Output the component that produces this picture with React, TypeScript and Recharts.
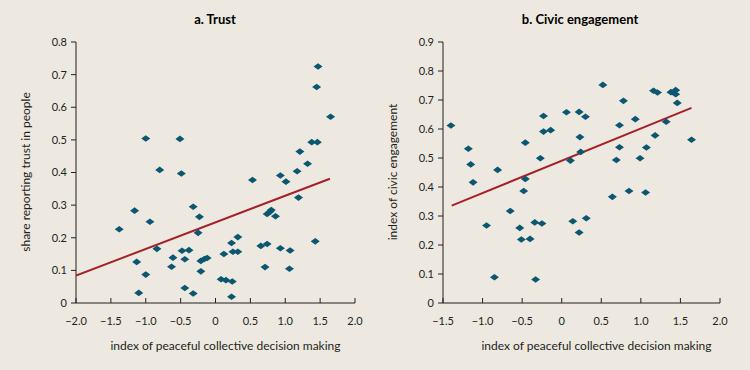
import React from "react";
import { ScatterChart, Scatter, XAxis, YAxis } from "recharts";

const BG = "#EDE9E0";
const DOT = "#0B5670";
const FIT = "#A3222A";
const INK = "#231F20";
const FONT = "Lato, 'Open Sans', sans-serif";

// panel a: trust
const trustIndex = [
  -1.38, -1.16, -1.13, -1.1, -1.0, -1.0, -0.94, -0.8, -0.84, -0.61, -0.63, -0.51, -0.49, -0.48, -0.44,
  -0.44, -0.38, -0.32, -0.32, -0.23, -0.25, -0.21, -0.21, -0.16, -0.12, 0.08, 0.15, 0.12, 0.23, 0.24,
  0.23, 0.25, 0.32, 0.32, 0.53, 0.65, 0.74, 0.71, 0.74, 0.78, 0.8, 0.86, 0.93, 1.01, 0.93, 1.07, 1.06,
  1.17, 1.21, 1.19, 1.32, 1.38, 1.46, 1.45, 1.47, 1.43, 1.65,
];
const trustShare = [
  0.226, 0.283, 0.126, 0.031, 0.504, 0.087, 0.249, 0.408, 0.166, 0.139, 0.111, 0.503, 0.397, 0.16, 0.134,
  0.046, 0.162, 0.295, 0.029, 0.264, 0.215, 0.097, 0.129, 0.135, 0.138, 0.073, 0.07, 0.15, 0.184, 0.066,
  0.019, 0.157, 0.157, 0.202, 0.377, 0.175, 0.181, 0.11, 0.273, 0.28, 0.285, 0.266, 0.391, 0.372, 0.168,
  0.161, 0.105, 0.404, 0.464, 0.323, 0.427, 0.493, 0.493, 0.662, 0.725, 0.189, 0.571,
];
const trustFitX = [-2.0, 1.64];
const trustFitY = [0.084, 0.381];

// panel b: civic engagement
const civicIndex = [
  -1.4, -1.18, -1.15, -1.12, -0.95, -0.85, -0.81, -0.65, -0.53, -0.51, -0.48, -0.46, -0.46, -0.4, -0.34,
  -0.33, -0.27, -0.25, -0.23, -0.23, -0.14, 0.06, 0.11, 0.14, 0.22, 0.23, 0.24, 0.22, 0.3, 0.31, 0.52,
  0.64, 0.69, 0.73, 0.73, 0.78, 0.85, 0.93, 0.99, 1.06, 1.07, 1.16, 1.18, 1.21, 1.32, 1.38, 1.44, 1.44,
  1.46, 1.64,
];
const civicScore = [
  0.612, 0.532, 0.478, 0.416, 0.267, 0.089, 0.459, 0.317, 0.259, 0.219, 0.386, 0.428, 0.553, 0.221, 0.278,
  0.081, 0.499, 0.274, 0.645, 0.591, 0.596, 0.658, 0.491, 0.282, 0.659, 0.572, 0.521, 0.243, 0.642, 0.292,
  0.752, 0.366, 0.493, 0.537, 0.613, 0.697, 0.386, 0.634, 0.499, 0.381, 0.536, 0.732, 0.578, 0.726, 0.625,
  0.727, 0.734, 0.72, 0.69, 0.563,
];
const civicFitX = [-1.39, 1.64];
const civicFitY = [0.336, 0.673];

const trustXTicks = [-2, -1.5, -1, -0.5, 0, 0.5, 1, 1.5, 2];
const trustYTicks = [0, 0.1, 0.2, 0.3, 0.4, 0.5, 0.6, 0.7, 0.8];
const civicXTicks = [-1.5, -1, -0.5, 0, 0.5, 1, 1.5, 2];
const civicYTicks = [0, 0.1, 0.2, 0.3, 0.4, 0.5, 0.6, 0.7, 0.8, 0.9];

const zip = (xs: number[], ys: number[]) => xs.map((x, i) => ({ x, y: ys[i] }));

const fmt = (v: number) => (v === 0 ? "0" : v.toFixed(1).replace("-", "\u2212"));

const Diamond = (props: any) => {
  const { cx, cy } = props;
  if (cx == null || cy == null) return <g />;
  return (
    <polygon
      points={`${cx - 4.5},${cy} ${cx},${cy - 3.3} ${cx + 4.5},${cy} ${cx},${cy + 3.3}`}
      fill={DOT}
    />
  );
};

const NoDot = () => <g />;

// x ticks point up into the plot
const XTick = (props: any) => {
  const { x, y, payload } = props;
  const axisY = y - 14;
  return (
    <g>
      <line x1={x} x2={x} y1={axisY} y2={axisY - 5} stroke={INK} strokeWidth={1} />
      <text x={x} y={y} dy="0.71em" textAnchor="middle" fontSize={11} fill={INK} fontFamily={FONT}>
        {fmt(payload.value)}
      </text>
    </g>
  );
};

interface PanelProps {
  left: number;
  title: string;
  yLabel: string;
  points: { x: number; y: number }[];
  fit: { x: number; y: number }[];
  xDomain: [number, number];
  yDomain: [number, number];
  xTicks: number[];
  yTicks: number[];
  plotLeft: number;
  plotRight: number;
  titleX: number;
  yLabelX: number;
}

function Panel(p: PanelProps) {
  const W = 375;
  const H = 370;
  return (
    <div style={{ position: "absolute", left: p.left, top: 0, width: W, height: H }}>
      <ScatterChart
        width={W}
        height={H}
        margin={{ top: 42, right: W - p.plotRight, bottom: 37, left: 0 }}
      >
        <XAxis
          type="number"
          dataKey="x"
          domain={p.xDomain}
          ticks={p.xTicks}
          interval={0}
          allowDataOverflow
          height={30}
          tickLine={false}
          tickSize={0}
          tickMargin={14}
          tick={<XTick />}
          axisLine={{ stroke: INK, strokeWidth: 1 }}
        />
        <YAxis
          type="number"
          dataKey="y"
          domain={p.yDomain}
          ticks={p.yTicks}
          interval={0}
          allowDataOverflow
          width={p.plotLeft}
          tickSize={5}
          tickMargin={4}
          tickFormatter={fmt}
          tick={{ fontSize: 11, fill: INK, fontFamily: FONT }}
          tickLine={{ stroke: INK, strokeWidth: 1 }}
          axisLine={{ stroke: INK, strokeWidth: 1 }}
        />
        <Scatter
          data={p.fit}
          line={{ stroke: FIT, strokeWidth: 2 }}
          shape={<NoDot />}
          isAnimationActive={false}
          legendType="none"
        />
        <Scatter data={p.points} shape={<Diamond />} isAnimationActive={false} />
      </ScatterChart>
      <div
        style={{
          position: "absolute",
          left: p.titleX - 150,
          width: 300,
          top: 11,
          textAlign: "center",
          fontFamily: FONT,
          fontWeight: 700,
          fontSize: 13,
          color: "#000",
        }}
      >
        {p.title}
      </div>
      <div
        style={{
          position: "absolute",
          left: 0,
          width: W,
          top: 338,
          paddingLeft: p.plotLeft,
          boxSizing: "border-box",
          textAlign: "center",
          fontFamily: FONT,
          fontSize: 12,
          color: INK,
        }}
      >
        <span style={{ display: "inline-block", width: p.plotRight - p.plotLeft }}>
          index of peaceful collective decision making
        </span>
      </div>
      <svg
        width={40}
        height={H}
        style={{ position: "absolute", left: p.yLabelX - 20, top: 0, overflow: "visible" }}
      >
        <text
          x={20}
          y={172}
          transform={`rotate(-90 20 172)`}
          textAnchor="middle"
          dominantBaseline="central"
          fontFamily={FONT}
          fontSize={12}
          fill={INK}
        >
          {p.yLabel}
        </text>
      </svg>
    </div>
  );
}

export default function App() {
  return (
    <div
      style={{
        position: "absolute",
        left: 0,
        top: 0,
        width: 750,
        height: 370,
        background: BG,
        overflow: "hidden",
      }}
    >
      <Panel
        left={0}
        title="a.  Trust"
        yLabel="share reporting trust in people"
        points={zip(trustIndex, trustShare)}
        fit={zip(trustFitX, trustFitY)}
        xDomain={[-2, 2]}
        yDomain={[0, 0.8]}
        xTicks={trustXTicks}
        yTicks={trustYTicks}
        plotLeft={76}
        plotRight={355}
        titleX={215}
        yLabelX={25}
      />
      <Panel
        left={375}
        title="b.  Civic engagement"
        yLabel="index of civic engagement"
        points={zip(civicIndex, civicScore)}
        fit={zip(civicFitX, civicFitY)}
        xDomain={[-1.5, 2]}
        yDomain={[0, 0.9]}
        xTicks={civicXTicks}
        yTicks={civicYTicks}
        plotLeft={68}
        plotRight={345}
        titleX={205}
        yLabelX={17}
      />
    </div>
  );
}
